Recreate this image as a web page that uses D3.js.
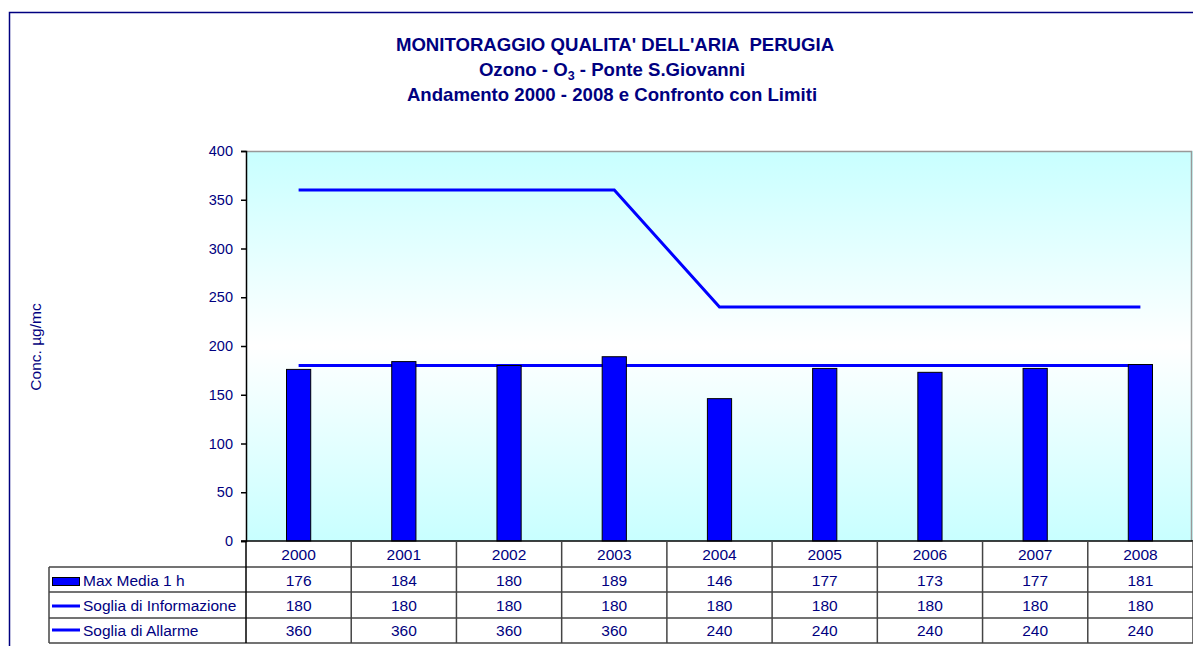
<!DOCTYPE html>
<html>
<head>
<meta charset="utf-8">
<script src="https://cdn.jsdelivr.net/npm/d3@7/dist/d3.min.js"></script>
<style>
  html, body { margin: 0; padding: 0; background: #fff; }
  text { font-family: Arial, "Liberation Sans", sans-serif; }
</style>
</head>
<body>
<script>
// data
var years = ["2000", "2001", "2002", "2003", "2004", "2005", "2006", "2007", "2008"];
var maxMedia = [176, 184, 180, 189, 146, 177, 173, 177, 181];
var sogliaInfo = [180, 180, 180, 180, 180, 180, 180, 180, 180];
var sogliaAllarme = [360, 360, 360, 360, 240, 240, 240, 240, 240];
var yTicks = [0, 50, 100, 150, 200, 250, 300, 350, 400];
var seriesNames = ["Max Media 1 h", "Soglia di Informazione", "Soglia di Allarme"];

var w = 1193, h = 646;
var navy = "#000080", blue = "#0000FF";
var plot = {left: 246, right: 1193, top: 151, bottom: 541};

var svg = d3.select("body").append("svg")
    .attr("width", w).attr("height", h);

// outer frame
svg.append("path")
    .attr("d", "M9.5," + h + "V12.5H" + w)
    .attr("fill", "none").attr("stroke", navy).attr("stroke-width", 1.5);

var x = d3.scaleBand().domain(years).range([plot.left, plot.right]);
var y = d3.scaleLinear().domain([0, 400]).range([plot.bottom, plot.top]);

// plot background
var grad = svg.append("defs").append("linearGradient")
    .attr("id", "bg").attr("x1", 0).attr("y1", 0).attr("x2", 0).attr("y2", 1);
grad.append("stop").attr("offset", "0%").attr("stop-color", "#C8FFFF");
grad.append("stop").attr("offset", "50%").attr("stop-color", "#FFFFFF");
grad.append("stop").attr("offset", "100%").attr("stop-color", "#C8FFFF");

svg.append("rect")
    .attr("x", plot.left).attr("y", plot.top)
    .attr("width", plot.right - plot.left).attr("height", plot.bottom - plot.top)
    .attr("fill", "url(#bg)");
svg.append("path")
    .attr("d", "M" + plot.left + "," + (plot.top + 0.5) + "H" + (plot.right - 1.5) + "V" + plot.bottom)
    .attr("fill", "none").attr("stroke", "#999").attr("stroke-width", 1.5);

// titles
var title = svg.append("g").attr("fill", navy).attr("font-weight", "bold")
    .attr("font-size", "18.6px").attr("text-anchor", "middle");
title.append("text").attr("x", 615).attr("y", 51).text("MONITORAGGIO QUALITA' DELL'ARIA  PERUGIA")
    .style("white-space", "pre");
var t2 = title.append("text").attr("x", 612).attr("y", 76);
t2.append("tspan").text("Ozono - O");
t2.append("tspan").attr("font-size", "12.5px").attr("dy", 4).text("3");
t2.append("tspan").attr("dy", -4).text(" - Ponte S.Giovanni");
title.append("text").attr("x", 612).attr("y", 101).text("Andamento 2000 - 2008 e Confronto con Limiti");

// y axis
var yAxis = svg.append("g")
    .attr("transform", "translate(" + plot.left + ",0)")
    .call(d3.axisLeft(y).tickValues(yTicks).tickSize(5).tickPadding(8));
yAxis.select(".domain").attr("stroke", "#000").attr("stroke-width", 1.5);
yAxis.selectAll(".tick line").attr("stroke", "#000").attr("stroke-width", 1.5);
yAxis.selectAll(".tick text").attr("fill", navy).attr("font-size", "14.5px")
    .attr("font-family", "Arial, 'Liberation Sans', sans-serif");

svg.append("text")
    .attr("transform", "translate(41,347) rotate(-90)")
    .attr("text-anchor", "middle").attr("fill", navy).attr("font-size", "15.5px")
    .text("Conc. µg/mc");

// threshold lines (behind the bars)
var line = d3.line()
    .x(function(d, i) { return x(years[i]) + x.bandwidth() / 2; })
    .y(function(d) { return y(d); });

[sogliaInfo, sogliaAllarme].forEach(function(s) {
    svg.append("path").datum(s)
        .attr("d", line)
        .attr("fill", "none").attr("stroke", blue).attr("stroke-width", 3);
});

// bars
var barW = x.bandwidth() * 0.23;
svg.selectAll("rect.bar")
    .data(maxMedia)
    .enter().append("rect")
        .attr("class", "bar")
        .attr("x", function(d, i) { return x(years[i]) + (x.bandwidth() - barW) / 2; })
        .attr("y", function(d) { return y(d); })
        .attr("width", barW)
        .attr("height", function(d) { return plot.bottom - y(d); })
        .attr("fill", blue).attr("stroke", "#000").attr("stroke-width", 1);

// x axis line
svg.append("line")
    .attr("x1", plot.left - 5).attr("x2", plot.right)
    .attr("y1", plot.bottom).attr("y2", plot.bottom)
    .attr("stroke", "#000").attr("stroke-width", 1.5);

// data table
var rowY = [541, 567, 592, 618, 643];
var tableLeft = 49;
var grid = svg.append("g").attr("stroke", "#444").attr("stroke-width", 1.5);
for (var r = 1; r < rowY.length; r++) {
    grid.append("line").attr("x1", tableLeft).attr("x2", plot.right)
        .attr("y1", rowY[r]).attr("y2", rowY[r]);
}
grid.append("line").attr("x1", tableLeft).attr("x2", tableLeft)
    .attr("y1", rowY[1]).attr("y2", rowY[4]);
grid.append("line").attr("x1", plot.left).attr("x2", plot.left)
    .attr("y1", rowY[0]).attr("y2", rowY[4]).attr("stroke", "#000");
years.forEach(function(yr) {
    grid.append("line")
        .attr("x1", x(yr) + x.bandwidth()).attr("x2", x(yr) + x.bandwidth())
        .attr("y1", rowY[0]).attr("y2", rowY[4]);
});

var rows = [years, maxMedia, sogliaInfo, sogliaAllarme];
var baselines = [560, 586, 611, 636];
rows.forEach(function(row, r) {
    svg.append("g").selectAll("text")
        .data(row)
        .enter().append("text")
            .attr("x", function(d, i) { return x(years[i]) + x.bandwidth() / 2; })
            .attr("y", baselines[r])
            .attr("text-anchor", "middle")
            .attr("fill", navy).attr("font-size", "15.5px")
            .text(function(d) { return d; });
});

// legend keys in the table
svg.append("rect").attr("x", 52.5).attr("y", 577.5).attr("width", 27).attr("height", 8)
    .attr("fill", blue).attr("stroke", "#000").attr("stroke-width", 1);
[606, 630].forEach(function(ly) {
    svg.append("line").attr("x1", 52).attr("x2", 80).attr("y1", ly).attr("y2", ly)
        .attr("stroke", blue).attr("stroke-width", 3);
});
seriesNames.forEach(function(n, i) {
    svg.append("text").attr("x", 83).attr("y", baselines[i + 1])
        .attr("fill", navy).attr("font-size", "15.5px").text(n);
});
</script>
</body>
</html>
